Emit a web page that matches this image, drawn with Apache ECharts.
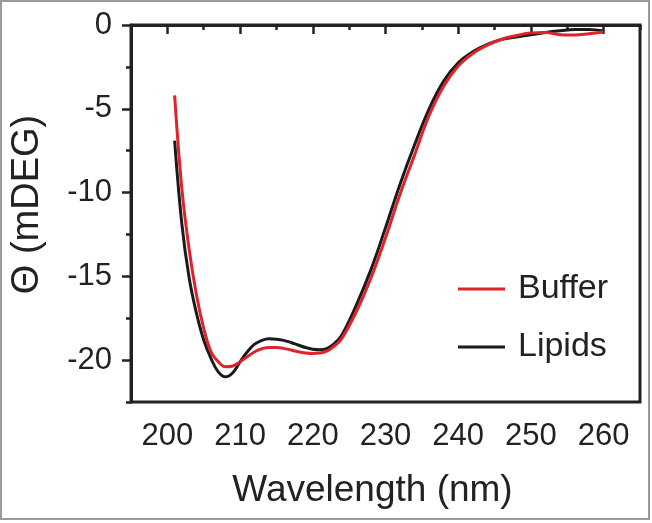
<!DOCTYPE html>
<html>
<head>
<meta charset="utf-8">
<script src="https://cdn.jsdelivr.net/npm/echarts@6/dist/echarts.min.js"></script>
<style>
html,body{margin:0;padding:0;background:#fff;}
#c{width:652px;height:523px;}
</style>
</head>
<body>
<div id="c"></div>
<script>
// ---- data ----
const wavelengths = [201,202,203,204,205,206,207,208,209,210,211,212,213,214,215,216,217,218,219,220,221,222,223,224,
  226,228,230,232,234,236,238,240,242,244,246,248,250,252,254,256,258,260];
const buffer = [-4.2,-9.8,-13.4,-16.1,-18.1,-19.5,-20.1,-20.4,-20.35,-20.1,-19.8,-19.5,-19.32,-19.24,-19.24,-19.3,-19.4,-19.5,-19.57,-19.6,-19.58,-19.45,-19.15,-18.7,
  -17.1,-15.1,-12.7,-10.1,-7.75,-5.4,-3.65,-2.45,-1.7,-1.2,-0.85,-0.63,-0.47,-0.45,-0.58,-0.6,-0.52,-0.42];
const lipids = [-6.9,-11.9,-15.1,-17.2,-18.8,-19.9,-20.7,-21.0,-20.75,-20.1,-19.5,-19.05,-18.82,-18.73,-18.75,-18.82,-18.95,-19.1,-19.25,-19.35,-19.38,-19.3,-19.0,-18.5,
  -16.7,-14.6,-12.1,-9.5,-7.15,-5.0,-3.35,-2.25,-1.6,-1.15,-0.86,-0.72,-0.58,-0.45,-0.35,-0.27,-0.27,-0.36];
const seriesNames = ['Buffer','Lipids'];
const xTitle = 'Wavelength (nm)';
const yTitle = 'Θ (mDEG)';

const pairs = (ys) => wavelengths.map((w,i)=>[w, ys[i]]);
const AX = '#222';
const FONT = 'Liberation Sans, Arial, Helvetica, sans-serif';

const chart = echarts.init(document.getElementById('c'), null, {renderer:'canvas'});
chart.setOption({
  backgroundColor:'#fff',
  animation:false,
  graphic:[{type:'rect', shape:{x:1,y:1,width:648,height:518}, style:{fill:'none', stroke:'#9a9a9a', lineWidth:2}, silent:true, z:0}],
  grid:{left:131, top:25, right:12, bottom:121, show:true, borderColor:AX, borderWidth:3, containLabel:false, outerBoundsMode:'none'},
  legend:{
    orient:'vertical', left:453, top:267, itemWidth:47, itemHeight:3, itemGap:24, icon:'rect',
    data:seriesNames,
    textStyle:{fontFamily:FONT, fontSize:34, color:'#222', lineHeight:34, padding:[0,0,0,8]}
  },
  xAxis:[{
    type:'value', min:195, max:265, splitNumber:6,
    name:xTitle, nameLocation:'middle', nameGap:70,
    nameTextStyle:{fontFamily:FONT, fontSize:37, color:'#222', padding:[0,26,0,0]},
    axisLine:{show:true, lineStyle:{color:AX, width:3}},
    axisTick:{show:true, inside:false, length:9, lineStyle:{color:AX, width:2.5}},
    axisLabel:{show:true, fontFamily:FONT, fontSize:31, color:'#222', margin:19, showMinLabel:false, showMaxLabel:false,
      formatter:(v)=> (v%10===0 ? String(v) : '')},
    splitLine:{show:false}
  },{
    type:'value', min:195, max:265, interval:5, position:'bottom',
    axisLine:{show:false}, axisLabel:{show:false}, splitLine:{show:false},
    axisTick:{show:true, length:5, lineStyle:{color:AX, width:2.5}}
  }],
  yAxis:[{
    type:'value', min:-22.5, max:0, splitNumber:5,
    name:yTitle, nameLocation:'middle', nameGap:84, nameRotate:90,
    nameTextStyle:{fontFamily:FONT, fontSize:38, color:'#222', padding:[0,0,0,18]},
    axisLine:{show:true, onZero:false, lineStyle:{color:AX, width:3}},
    axisTick:{show:true, inside:false, length:9, lineStyle:{color:AX, width:2.5}},
    axisLabel:{show:true, fontFamily:FONT, fontSize:31, color:'#222', margin:19, showMinLabel:false,
      formatter:(v)=> (v%5===0 ? String(v) : '')},
    splitLine:{show:false}
  },{
    type:'value', min:-22.5, max:0, interval:2.5, position:'left',
    axisLine:{show:false}, axisLabel:{show:false}, splitLine:{show:false},
    axisTick:{show:true, length:5, lineStyle:{color:AX, width:2.5}}
  }],
  series:[
    {name:'Lipids', type:'line', data:pairs(lipids), xAxisIndex:0, yAxisIndex:0, showSymbol:false, smooth:0.4,
      itemStyle:{color:'#1a1a1a'}, lineStyle:{color:'#1a1a1a', width:3}, z:2},
    {name:'Buffer', type:'line', data:pairs(buffer), xAxisIndex:0, yAxisIndex:0, showSymbol:false, smooth:0.4,
      itemStyle:{color:'#e1222a'}, lineStyle:{color:'#e1222a', width:3}, z:3}
  ]
});
</script>
</body>
</html>
